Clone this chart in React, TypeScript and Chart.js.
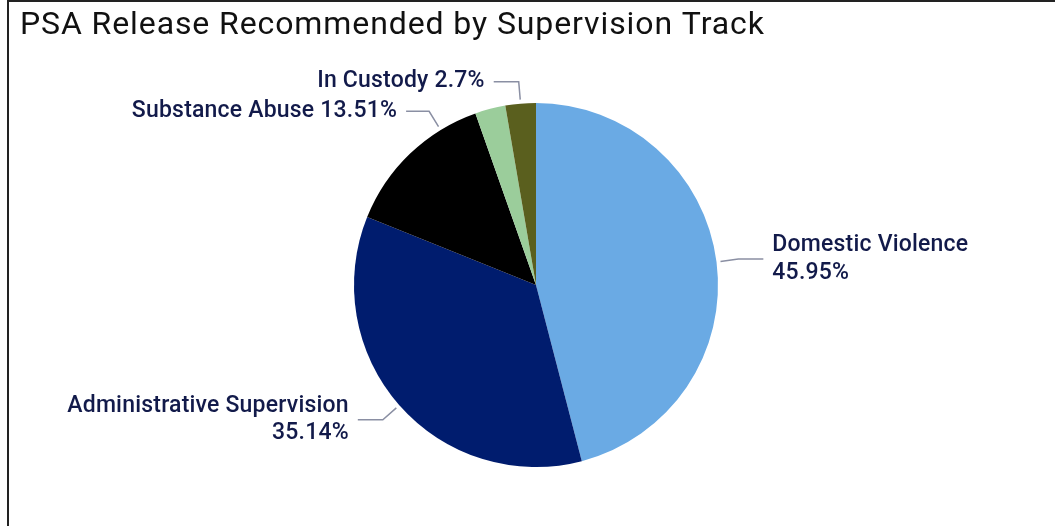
import React, { useEffect, useRef } from "react";
import { Chart, registerables } from "chart.js";

Chart.register(...registerables);

const categories = [
  "Domestic Violence",
  "Administrative Supervision",
  "Substance Abuse",
  "Other",
  "In Custody",
];
const values = [45.95, 35.14, 13.51, 2.7, 2.7];
const colors = ["#6aaae4", "#001c6e", "#000000", "#9bcd9b", "#5a5f1e"];
const titleText = "PSA Release Recommended by Supervision Track";

// label layout per slice: null = no label
const labelLayout: any[] = [
  { frac: 0.5, side: "right", horiz: 25, lines: ["Domestic Violence", "45.95%"] },
  { frac: 0.5, side: "left", horiz: 25, lines: ["Administrative Supervision", "35.14%"] },
  { frac: 0.75, side: "left", horiz: 23, lines: ["Substance Abuse 13.51%"] },
  null,
  { frac: 0.5, side: "left", horiz: 25, lines: ["In Custody 2.7%"] },
];

const FONT = "Roboto, 'DejaVu Sans', sans-serif";

const labelPlugin = {
  id: "pieLabels",
  afterDraw(chart: any) {
    const ctx = chart.ctx;
    ctx.save();
    // title
    ctx.fillStyle = "#111111";
    ctx.font = `32px ${FONT}`;
    (ctx as any).letterSpacing = "0.9px";
    ctx.textAlign = "left";
    ctx.textBaseline = "alphabetic";
    ctx.fillText(titleText, 20, 34);

    const meta = chart.getDatasetMeta(0);
    meta.data.forEach((arc: any, i: number) => {
      const cfg = labelLayout[i];
      if (!cfg) return;
      const { x, y, startAngle, endAngle, outerRadius } = arc.getProps(
        ["x", "y", "startAngle", "endAngle", "outerRadius"],
        true
      );
      const a = startAngle + cfg.frac * (endAngle - startAngle);
      const r0 = outerRadius + 4;
      const r1 = outerRadius + 22;
      const p0 = { x: x + r0 * Math.cos(a), y: y + r0 * Math.sin(a) };
      const p1 = { x: x + r1 * Math.cos(a), y: y + r1 * Math.sin(a) };
      const dir = cfg.side === "right" ? 1 : -1;
      const p2 = { x: p1.x + dir * cfg.horiz, y: p1.y };
      ctx.strokeStyle = "#8a8fa3";
      ctx.lineWidth = 1.5;
      ctx.beginPath();
      ctx.moveTo(p0.x, p0.y);
      ctx.lineTo(p1.x, p1.y);
      ctx.lineTo(p2.x, p2.y);
      ctx.stroke();

      ctx.fillStyle = "#121a4a";
      ctx.font = `500 23px ${FONT}`;
      (ctx as any).letterSpacing = "0.2px";
      ctx.textAlign = cfg.side === "right" ? "left" : "right";
      ctx.textBaseline = "middle";
      const lh = 27.5;
      const n = cfg.lines.length;
      cfg.lines.forEach((t: string, k: number) => {
        const ty = p2.y + (k - (n - 1) / 2) * lh;
        ctx.fillText(t, p2.x + dir * 9, ty);
      });
    });
    ctx.restore();
  },
};

export default function App() {
  const ref = useRef<HTMLCanvasElement>(null);
  useEffect(() => {
    if (!ref.current) return;
    const chart = new Chart(ref.current, {
      type: "pie",
      data: {
        labels: categories,
        datasets: [
          {
            data: values,
            backgroundColor: colors,
            borderWidth: 0,
          },
        ],
      },
      options: {
        responsive: false,
        animation: false,
        layout: { padding: { left: 354, right: 337, top: 103, bottom: 59 } },
        plugins: {
          legend: { display: false },
          tooltip: { enabled: false },
          title: { display: false },
        },
      },
      plugins: [labelPlugin],
    });
    return () => chart.destroy();
  }, []);
  return (
    <div
      style={{
        position: "fixed",
        left: 0,
        top: 0,
        width: 1055,
        height: 526,
        overflow: "hidden",
        background: "#fff",
      }}
    >
      <canvas
        ref={ref}
        width={1055}
        height={526}
        style={{ position: "absolute", left: 0, top: 0, width: 1055, height: 526 }}
      />
      <div
        style={{
          position: "absolute",
          left: 7,
          top: 0,
          width: 1200,
          height: 700,
          borderLeft: "2px solid #222",
          borderTop: "2px solid #222",
          boxSizing: "border-box",
          pointerEvents: "none",
        }}
      />
    </div>
  );
}
